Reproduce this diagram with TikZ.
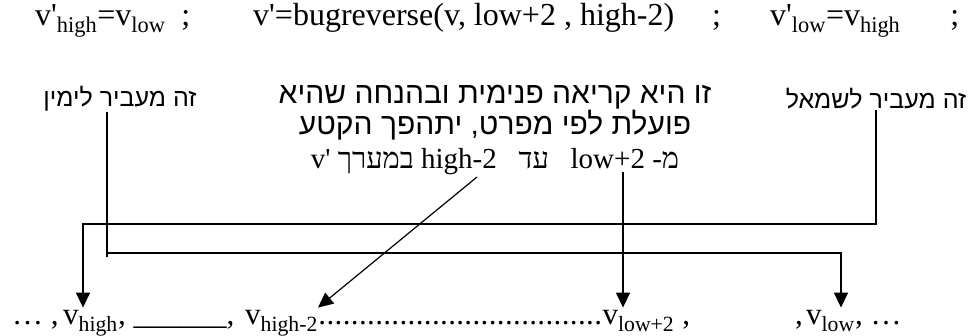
\documentclass[tikz,border=0pt]{standalone}
\usepackage{fontspec}
\setmainfont{Liberation Serif}
\newfontfamily\hebsans[Script=Hebrew]{Liberation Sans}
\newfontfamily\hebserif[Script=Hebrew]{Liberation Serif}
\TeXXeTstate=1
\usetikzlibrary{arrows.meta}
\usetikzlibrary{math}
\newcommand\dotrow[1]{\hbox to #1{\xleaders\hbox to 8pt{\hss.\hss}\hfill}}
\newcommand\q{\textquotesingle}

\tikzset{
lat/.style={font=\fontsize{31}{36}\selectfont, inner sep=0pt, anchor=base west},
big/.style={lat, font=\fontsize{32}{36}\selectfont},
tgt/.style={lat, inner ysep=3pt},
heb/.style={font=\fontsize{25}{30}\selectfont\hebsans, inner sep=0pt},
wire/.style={line width=1.5pt},
arr/.style={wire, -{Triangle[length=15pt,width=14pt]}},
}

\begin{document}
\begin{tikzpicture}[x=1pt,y=-1pt]
\tikzmath{
\yup=224; \ydn=253; \ybase=325;
}
\useasboundingbox (0,0) rectangle (974,336);

% the three statements
\node[big] (eqa) at (35,26) {v\q\textsubscript{high}=v\textsubscript{low}\hspace{16pt};};
\node[big] (eqb) at (253,26) {v\q=bugreverse(v, low+2 , high-2)\hspace{38pt};};
\node[big] (eqc) at (770,26) {v\q\textsubscript{low}=v\textsubscript{high}\hspace{50pt};};

% comments
\node[heb] (toright) at (120,99) {\beginR זה מעביר לימין\endR};
\node[heb] (toleft) at (876,99) {\beginR זה מעביר לשמאל\endR};
\node[heb, font=\fontsize{30}{31}\selectfont\hebsans, align=center, anchor=north] (mid) at (495,85) {\beginR זו היא קריאה פנימית ובהנחה שהיא\endR\\
\beginR פועלת לפי מפרט, יתהפך הקטע\endR\\[3pt]
\hebserif\fontsize{29}{31}\selectfont\beginR מ- \beginL low+2\endL\ \ \ עד\ \ \ \beginL high-2\endL{} במערך \beginL v\q\endL\endR};

% the array
\node[lat] (lead) at (12,\ybase) {\dots{} ,};
\node[tgt] (vhigh) at (63,\ybase) {v\textsubscript{high}};
\node[lat] (blank) at (vhigh.base east) {, \_\_\_\_\_\_,};
\node[tgt] (vhightwo) at (245,\ybase) {v\textsubscript{high-2}};
\node[lat] (gapdots) at (vhightwo.base east) {\dotrow{284pt}};
\node[tgt] (vlowtwo) at (gapdots.base east) {v\textsubscript{low+2}};
\node[lat] (sepa) at (vlowtwo.base east) {\ ,};
\node[lat] (sepb) at (795,\ybase) {,};
\node[tgt] (vlow) at (806,\ybase) {v\textsubscript{low}};
\node[lat] (tail) at (vlow.base east) {, \dots};

\coordinate (up) at (83,\yup);
\coordinate (dn) at (841,\ydn);
\coordinate (stub) at (0,\ydn+4);
\coordinate (lowsrc) at (623,172);
\coordinate (highsrc) at (477,177);

\draw[arr] (toleft.south) |- (up) -- (up |- vhigh.north);
\draw[wire] ([xshift=-13pt]toright.south) coordinate (rs) -- (rs |- stub);
\draw[arr] (rs |- dn) -- (dn) -- (dn |- vlow.north);
\draw[arr] (lowsrc) -- (lowsrc |- vlowtwo.north);
\draw[arr, line width=1.2pt] (highsrc) -- (vhightwo.north east);
\end{tikzpicture}
\end{document}
